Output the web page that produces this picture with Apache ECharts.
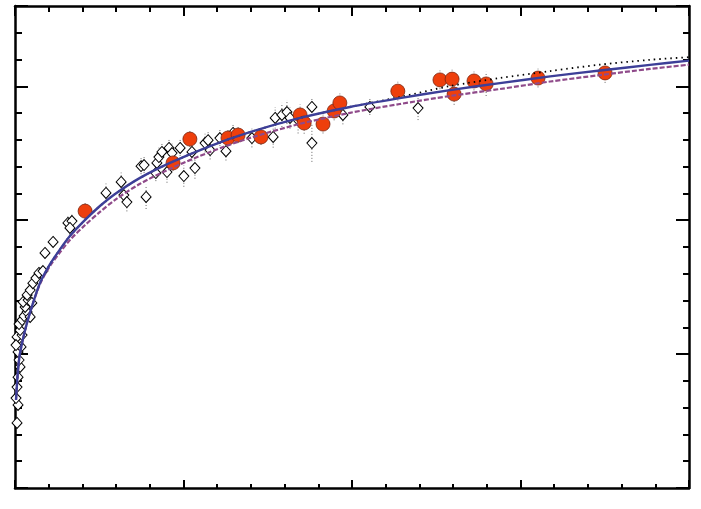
<!DOCTYPE html>
<html>
<head>
<meta charset="utf-8">
<script src="https://cdn.jsdelivr.net/npm/echarts@6/dist/echarts.min.js"></script>
<style>html,body{margin:0;padding:0;background:#fff}#c{width:701px;height:509px}</style>
</head>
<body>
<div id="c"></div>
<script>
// Fit curves
const fitX      = [0.03,0.09,0.15,0.30,0.45,0.74,1.04,1.34,1.63,2.08,2.52,2.97,3.71,4.60,5.79,6.97,8.46,9.94,11.42,12.91,14.39,15.88,17.36,18.84,20.0];
const fitBlue   = [3.29,4.41,5.04,5.90,6.57,7.65,8.36,8.92,9.41,10.01,10.53,10.98,11.58,12.14,12.77,13.29,13.82,14.23,14.56,14.86,15.12,15.37,15.59,15.80,15.96];
const fitPurple = [3.29,4.41,5.04,5.90,6.57,7.61,8.29,8.81,9.26,9.82,10.31,10.76,11.36,11.92,12.55,13.07,13.60,14.01,14.34,14.64,14.90,15.18,15.42,15.65,15.81];
const fitDotted = [3.29,4.41,5.04,5.90,6.57,7.65,8.36,8.92,9.41,10.01,10.53,10.98,11.58,12.14,12.77,13.29,13.82,14.23,14.60,15.01,15.31,15.57,15.81,15.99,16.09];

// Red filled circles
const redX   = [2.08,4.69,5.19,6.32,6.62,7.30,8.46,8.58,9.14,9.47,9.64,11.36,12.61,12.97,13.03,13.62,13.98,15.52,17.51];
const redY   = [10.34,12.14,13.03,13.07,13.18,13.11,13.93,13.63,13.59,14.08,14.38,14.82,15.24,15.27,14.71,15.20,15.09,15.31,15.50];
const redErr = [0.30,0.30,0.30,0.30,0.30,0.30,0.40,0.40,0.35,0.35,0.35,0.35,0.35,0.35,0.40,0.35,0.45,0.35,0.37];

// Open diamonds
const diaX = [0.06,0.09,0.03,0.06,0.09,0.15,0.12,0.09,0.18,0.06,0.03,0.21,0.15,0.12,0.21,0.27,0.36,0.30,0.45,0.24,0.39,0.50,0.36,0.45,0.53,0.62,0.71,0.83,0.89,1.13,1.57,1.69,1.63,
              2.70,3.15,3.23,3.32,3.89,3.74,3.83,4.21,4.27,4.18,4.51,4.36,4.57,4.66,4.90,5.01,5.34,5.25,5.64,5.73,5.79,6.08,6.26,6.47,7.03,7.66,7.72,7.92,8.07,8.16,8.40,8.81,8.81,9.73,10.53,11.96];
const diaY = [2.43,3.10,3.36,3.77,4.14,4.52,4.78,5.08,5.27,5.64,5.34,5.71,5.90,6.12,6.27,6.42,6.57,6.76,6.39,6.95,7.02,6.91,7.21,7.39,7.65,7.84,8.03,8.10,8.78,9.19,9.90,9.97,9.71,
              11.02,11.43,10.94,10.68,10.87,12.02,12.06,12.14,12.36,11.76,11.80,12.55,12.70,12.51,12.70,11.65,11.95,12.55,12.88,12.99,12.62,13.07,12.58,13.26,13.07,13.11,13.82,13.93,14.04,13.82,13.74,14.23,12.88,13.93,14.23,14.19];
const diaErr = [0.15,0.15,0.15,0.15,0.15,0.15,0.15,0.15,0.15,0.15,0.15,0.15,0.15,0.15,0.15,0.15,0.15,0.15,0.15,0.15,0.15,0.15,0.15,0.15,0.15,0.2,0.2,0.2,0.2,0.2,0.25,0.25,0.25,
              0.35,0.35,0.3,0.35,0.45,0.3,0.3,0.3,0.35,0.3,0.4,0.3,0.3,0.35,0.3,0.4,0.4,0.35,0.35,0.3,0.35,0.3,0.35,0.3,0.35,0.4,0.4,0.45,0.45,0.4,0.5,0.3,0.7,0.35,0.3,0.45];

const zip2 = (a, b) => a.map((v, i) => [v, b[i]]);
const errData = (xs, ys, es) => xs.map((v, i) => [v, ys[i] - es[i], ys[i] + es[i]]);

const errRender = (params, api) => {
  const x = api.value(0), lo = api.value(1), hi = api.value(2);
  const p1 = api.coord([x, lo]), p2 = api.coord([x, hi]);
  return { type: 'line', shape: { x1: p1[0], y1: p1[1], x2: p2[0], y2: p2[1] },
           style: { stroke: '#666', lineWidth: 1, lineDash: [1, 2] } };
};

const axisCommon = (len, mlen) => ({
  type: 'value',
  axisLine: { show: true, onZero: false, lineStyle: { color: '#000', width: 2.5 } },
  axisTick: { show: true, inside: true, length: len, lineStyle: { color: '#000', width: 2 } },
  minorTick: { show: true, splitNumber: 5, length: mlen, lineStyle: { color: '#000', width: 2 } },
  axisLabel: { show: false },
  splitLine: { show: false },
  minorSplitLine: { show: false }
});

const lineCommon = { smooth: 0.3, showSymbol: false, symbol: 'none' };

const chart = echarts.init(document.getElementById('c'), null, { renderer: 'canvas' });
chart.setOption({
  animation: false,
  backgroundColor: '#fff',
  grid: { left: 15, right: 12, top: 6, bottom: 21 },
  xAxis: [
    Object.assign(axisCommon(8, 4), { position: 'bottom', min: 0, max: 20, interval: 5 }),
    Object.assign(axisCommon(10, 6), { position: 'top', min: 0, max: 20, interval: 5 })
  ],
  yAxis: [
    Object.assign(axisCommon(13, 7), { position: 'left', min: 0, max: 18, interval: 5 }),
    Object.assign(axisCommon(13, 6), { position: 'right', min: 0, max: 18, interval: 5 })
  ],
  series: [
    { type: 'custom', renderItem: errRender, data: errData(diaX, diaY, diaErr), encode: { x: 0, y: [1, 2] }, z: 1, silent: true },
    { type: 'custom', renderItem: errRender, data: errData(redX, redY, redErr), encode: { x: 0, y: [1, 2] }, z: 1, silent: true },
    { type: 'scatter', data: zip2(diaX, diaY), symbol: 'diamond', symbolSize: [10, 11],
      itemStyle: { color: '#fff', borderColor: '#000', borderWidth: 1, opacity: 1 }, z: 2 },
    { type: 'scatter', data: zip2(redX, redY), symbol: 'circle', symbolSize: 14,
      itemStyle: { color: '#EE3F0C', borderColor: '#7a2612', borderWidth: 0.8, opacity: 1 }, z: 3 },
    Object.assign({ type: 'line', data: zip2(fitX, fitDotted), z: 4,
      lineStyle: { color: '#000', width: 1.8, type: [1.5, 4] } }, lineCommon),
    Object.assign({ type: 'line', data: zip2(fitX, fitPurple), z: 5,
      lineStyle: { color: '#8f4a8a', width: 2.2, type: [5, 2] } }, lineCommon),
    Object.assign({ type: 'line', data: zip2(fitX, fitBlue), z: 6,
      lineStyle: { color: '#3d3f98', width: 2.4 } }, lineCommon)
  ]
});
</script>
</body>
</html>
